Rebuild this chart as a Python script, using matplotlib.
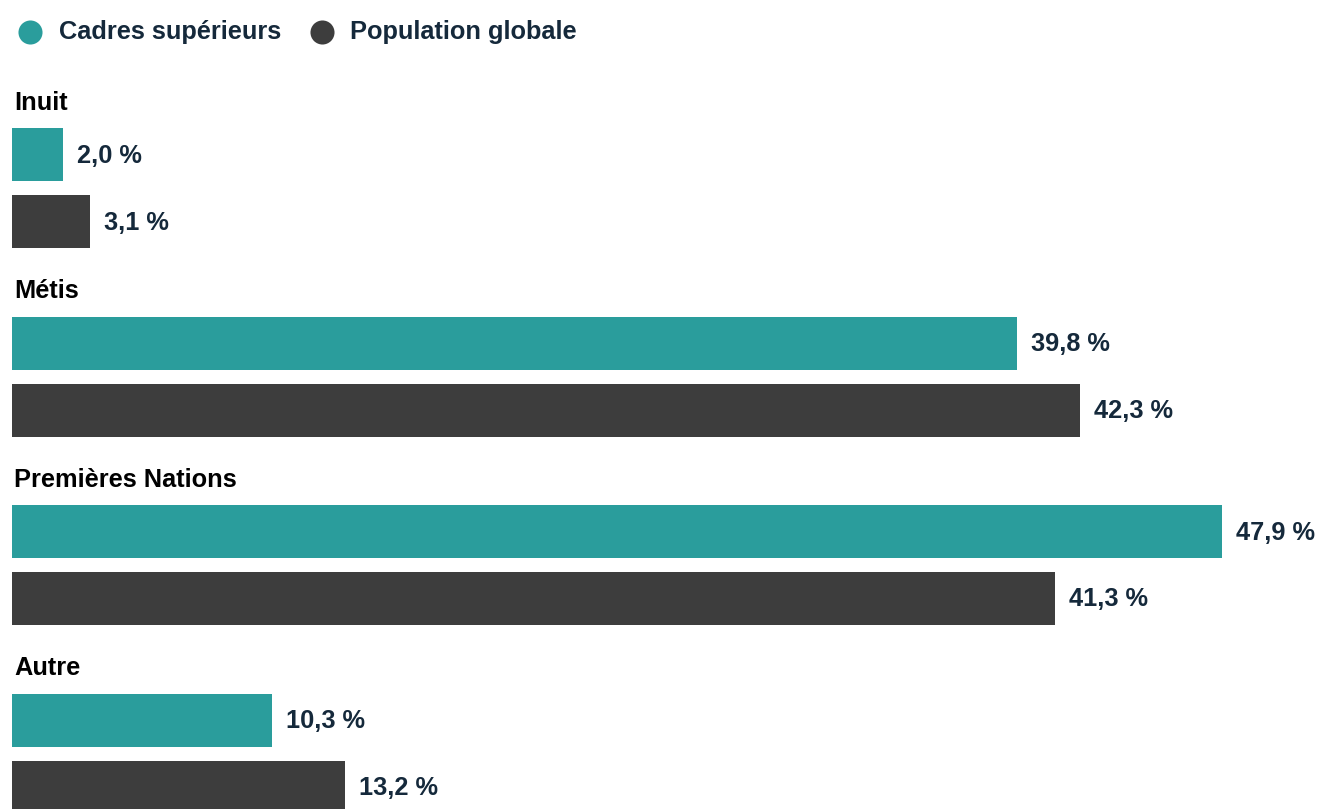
import matplotlib.pyplot as plt

plt.rcParams['font.family'] = ['Liberation Sans', 'DejaVu Sans']

# data
groups = ['Inuit', 'Métis', 'Premières Nations', 'Autre']
cadres = [2.0, 39.8, 47.9, 10.3]
population = [3.1, 42.3, 41.3, 13.2]
series_names = ['Cadres supérieurs', 'Population globale']

teal = '#2a9d9c'
dark = '#3d3d3d'
text_color = '#15293b'

fig = plt.figure(figsize=(13.19, 8.09), dpi=100)
ax = fig.add_axes([0, 0, 1, 1])

# x in percent, y in pixel rows (inverted)
px = 25.26  # pixels per percent
ax.set_xlim(-12 / px, (1319 - 12) / px)
ax.set_ylim(809, 0)
ax.axis('off')

step = 188.5
bar_h = 53
fs = 18.3
for i, g in enumerate(groups):
    y_teal = 154.5 + i * step
    y_dark = 221.5 + i * step
    ax.text(0.08, y_teal - 52, g, fontsize=fs, fontweight='bold',
            color='black', va='center', ha='left')
    ax.barh(y_teal, cadres[i], height=bar_h, color=teal, left=0)
    ax.barh(y_dark, population[i], height=bar_h, color=dark, left=0)
    for y, v in [(y_teal, cadres[i]), (y_dark, population[i])]:
        ax.text(v + 14 / px, y + 1, f'{v:.1f} %'.replace('.', ','),
                fontsize=fs, fontweight='bold', color=text_color,
                va='center', ha='left')

# legend
for x_dot, x_txt, name, c in [(30, 59, series_names[0], teal),
                               (322, 350, series_names[1], dark)]:
    ax.scatter((x_dot - 12) / px, 32, s=300, color=c, linewidths=0)
    ax.text((x_txt - 12) / px, 32, name, fontsize=fs, fontweight='bold',
            color=text_color, va='center', ha='left')

fig.savefig('out.png', dpi=100, facecolor='white')
